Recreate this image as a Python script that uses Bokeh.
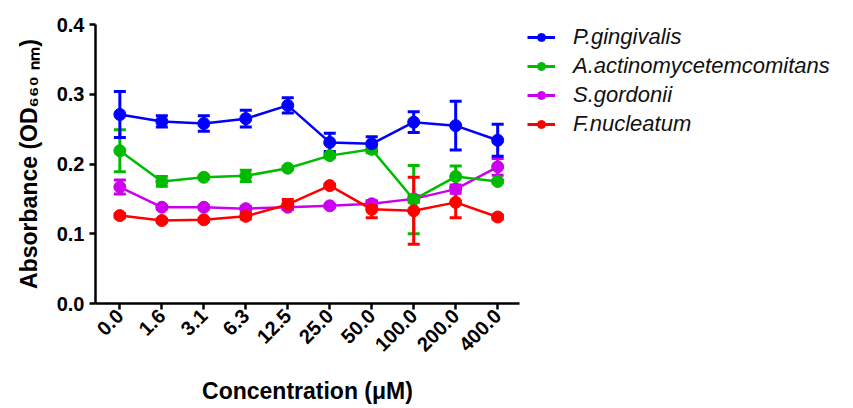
import math
from bokeh.plotting import figure
from bokeh.layouts import row
from bokeh.models import (Range1d, FixedTicker, Whisker, TeeHead, ColumnDataSource,
                          Legend, LegendItem)
from bokeh.embed import file_html
from bokeh.resources import INLINE

conc_labels = ["0.0", "1.6", "3.1", "6.3", "12.5", "25.0", "50.0", "100.0", "200.0", "400.0"]

series_names = ["P.gingivalis", "A.actinomycetemcomitans", "S.gordonii", "F.nucleatum"]
series_colors = ["#0000FF", "#00BB00", "#CC00EE", "#FF0000"]

pg_mean = [0.271, 0.261, 0.258, 0.265, 0.284, 0.231, 0.229, 0.260, 0.255, 0.234]
pg_err = [0.033, 0.008, 0.011, 0.012, 0.011, 0.013, 0.010, 0.015, 0.035, 0.023]

aa_mean = [0.219, 0.175, 0.181, 0.183, 0.194, 0.212, 0.221, 0.149, 0.182, 0.175]
aa_err = [0.030, 0.007, 0.002, 0.008, 0.002, 0.003, 0.005, 0.049, 0.015, 0.002]

sg_mean = [0.167, 0.138, 0.138, 0.136, 0.138, 0.140, 0.143, 0.150, 0.164, 0.196]
sg_err = [0.010, 0.002, 0.002, 0.003, 0.002, 0.002, 0.004, 0.005, 0.006, 0.012]

fn_mean = [0.126, 0.119, 0.120, 0.125, 0.142, 0.169, 0.135, 0.133, 0.145, 0.124]
fn_err = [0.003, 0.002, 0.002, 0.004, 0.007, 0.002, 0.012, 0.048, 0.022, 0.003]

y_ticks = [0.0, 0.1, 0.2, 0.3, 0.4]

W1, W2, H = 521, 326, 407
p = figure(width=W1, height=H, output_backend="svg", toolbar_location=None,
           x_range=Range1d(-0.58, 9.52), y_range=Range1d(0, 0.4),
           min_border_left=95, min_border_right=2, min_border_top=24,
           min_border_bottom=H - 303)
p.outline_line_color = None
p.xgrid.visible = False
p.ygrid.visible = False
p.background_fill_color = "white"
p.border_fill_color = "white"

# legend-only figure to the right (its renderers share the data but lie outside its view)
pl = figure(width=W2, height=H, output_backend="svg", toolbar_location=None,
            x_range=Range1d(-200, -199), y_range=Range1d(-200, -199),
            min_border_left=6, min_border_right=0, min_border_top=18, min_border_bottom=0)
pl.axis.visible = False
pl.grid.visible = False
pl.outline_line_color = None
pl.border_fill_color = "white"
pl.background_fill_color = "white"

xs = list(range(len(conc_labels)))
means = [pg_mean, aa_mean, sg_mean, fn_mean]
errs = [pg_err, aa_err, sg_err, fn_err]

srcs = {}
for i in range(4):
    m, e = means[i], errs[i]
    srcs[i] = ColumnDataSource(dict(x=xs, y=m,
                                    lo=[a - b for a, b in zip(m, e)],
                                    hi=[a + b for a, b in zip(m, e)]))

draw_order = [2, 1, 0, 3]
for i in draw_order:
    c, src = series_colors[i], srcs[i]
    p.line("x", "y", source=src, line_color=c, line_width=2.5)
    p.scatter("x", "y", source=src, size=12, fill_color=c, line_color=c)
    wh = Whisker(base="x", upper="hi", lower="lo", source=src, dimension="height",
                 line_color=c, line_width=3,
                 upper_head=TeeHead(size=12, line_color=c, line_width=3),
                 lower_head=TeeHead(size=12, line_color=c, line_width=3))
    p.add_layout(wh)

items = []
for i in range(4):
    c = series_colors[i]
    ln = pl.line("x", "y", source=srcs[i], line_color=c, line_width=3)
    sc = pl.scatter("x", "y", source=srcs[i], size=11, fill_color=c, line_color=c)
    items.append(LegendItem(label=series_names[i], renderers=[ln, sc]))

legend = Legend(items=items, location="top_left",
                label_text_font="Liberation Sans", label_text_font_style="italic",
                label_text_font_size="22px", label_text_color="#111111",
                glyph_width=28, glyph_height=20, label_height=20, spacing=3,
                label_standoff=18, padding=0, margin=0,
                border_line_color=None, background_fill_alpha=0)
pl.add_layout(legend, "center")

for ax in (p.xaxis[0], p.yaxis[0]):
    ax.axis_line_width = 2.5
    ax.axis_line_color = "black"
    ax.major_tick_line_width = 2.5
    ax.major_tick_line_color = "black"
    ax.major_tick_out = 6
    ax.major_tick_in = 0
    ax.minor_tick_line_color = None
    ax.major_label_text_font = "Liberation Sans"
    ax.major_label_text_font_style = "bold"
    ax.major_label_text_font_size = "20px"
    ax.major_label_text_color = "black"
    ax.axis_label_text_font = "Liberation Sans"
    ax.axis_label_text_font_style = "bold"
    ax.axis_label_text_font_size = "23px"
    ax.axis_label_text_color = "black"

p.xaxis.ticker = FixedTicker(ticks=xs)
p.xaxis.major_label_overrides = {x: lab for x, lab in zip(xs, conc_labels)}
p.xaxis.major_label_orientation = math.pi / 4
p.xaxis.major_label_standoff = 3
p.xaxis.axis_label = "Concentration (μM)"
p.xaxis.axis_label_standoff = 17

p.yaxis.ticker = FixedTicker(ticks=y_ticks)
p.yaxis.major_label_overrides = {t: f"{t:.1f}" for t in y_ticks}
p.yaxis.axis_label = "Absorbance (OD₆₆₀ ₙₘ)"
p.yaxis.axis_label_standoff = 12

layout = row(p, pl)
open("out.html", "w").write(file_html(layout, INLINE))
